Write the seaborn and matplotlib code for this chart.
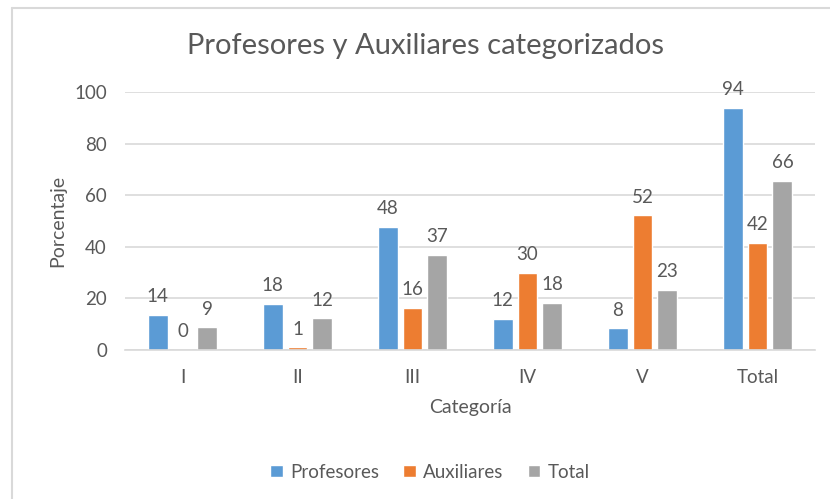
import matplotlib
matplotlib.use("Agg")
import matplotlib.pyplot as plt
import pandas as pd
import seaborn as sns
from matplotlib.lines import Line2D

categories = ["I", "II", "III", "IV", "V", "Total"]
profesores = [13.6, 17.8, 47.6, 12.0, 8.4, 93.9]
auxiliares = [0.0, 1.0, 16.2, 30.0, 52.2, 41.6]
total = [8.8, 12.3, 36.8, 18.3, 23.4, 65.6]
series = ["Profesores", "Auxiliares", "Total"]
colors = ["#5b9bd5", "#ed7d31", "#a5a5a5"]

df = pd.DataFrame({
    "Categoría": categories * 3,
    "Porcentaje": profesores + auxiliares + total,
    "Serie": [s for s in series for _ in categories],
})

sns.set_theme(style="white")
plt.rcParams["font.family"] = ["Lato", "DejaVu Sans"]
text_color = "#595959"

fig = plt.figure(figsize=(8.3, 4.99), dpi=100)
ax = fig.add_axes([125 / 830, 1 - 350 / 499, 690 / 830, 258 / 499])

sns.barplot(data=df, x="Categoría", y="Porcentaje", hue="Serie", palette=colors,
            width=0.65, gap=0.2, ax=ax, legend=True, saturation=1)

for container in ax.containers:
    ax.bar_label(container, labels=[f"{v:.0f}" for v in container.datavalues],
                 padding=7, fontsize=13.5, color=text_color)

ax.set_ylim(0, 100)
ax.set_xlim(-0.5, 5.5)
ax.set_yticks(range(0, 101, 20))
ax.yaxis.grid(True, color="#d9d9d9", linewidth=1.2)
ax.set_axisbelow(True)
for side in ["top", "right", "left"]:
    ax.spines[side].set_visible(False)
ax.spines["bottom"].set_color("#d9d9d9")
ax.spines["bottom"].set_linewidth(1.2)
ax.tick_params(axis="both", length=0, labelsize=13.5, colors=text_color)
ax.tick_params(axis="y", pad=13)
ax.tick_params(axis="x", pad=14)
ax.set_ylabel("Porcentaje", fontsize=14, color=text_color, labelpad=6)
ax.set_xlabel("Categoría", fontsize=14, color=text_color, labelpad=9)

fig.text(425 / 830, 1 - 46 / 499, "Profesores y Auxiliares categorizados",
         ha="center", va="center", fontsize=21, color=text_color)

handles, labels = ax.get_legend_handles_labels()
ax.legend_.remove()
fig.legend(handles, labels, loc="center", bbox_to_anchor=(430 / 830, 1 - 472 / 499),
           ncol=3, frameon=False, fontsize=13.5, handlelength=0.65, handleheight=0.65,
           handletextpad=0.4, columnspacing=1.3, labelcolor=text_color)

fig.add_artist(Line2D([11.5 / 830, 11.5 / 830], [0, 1 - 7.5 / 499], transform=fig.transFigure,
                      color="#d9d9d9", linewidth=1.5))
fig.add_artist(Line2D([11.5 / 830, 1], [1 - 7.5 / 499, 1 - 7.5 / 499], transform=fig.transFigure,
                      color="#d9d9d9", linewidth=1.5))

fig.savefig("out.png", dpi=100)
